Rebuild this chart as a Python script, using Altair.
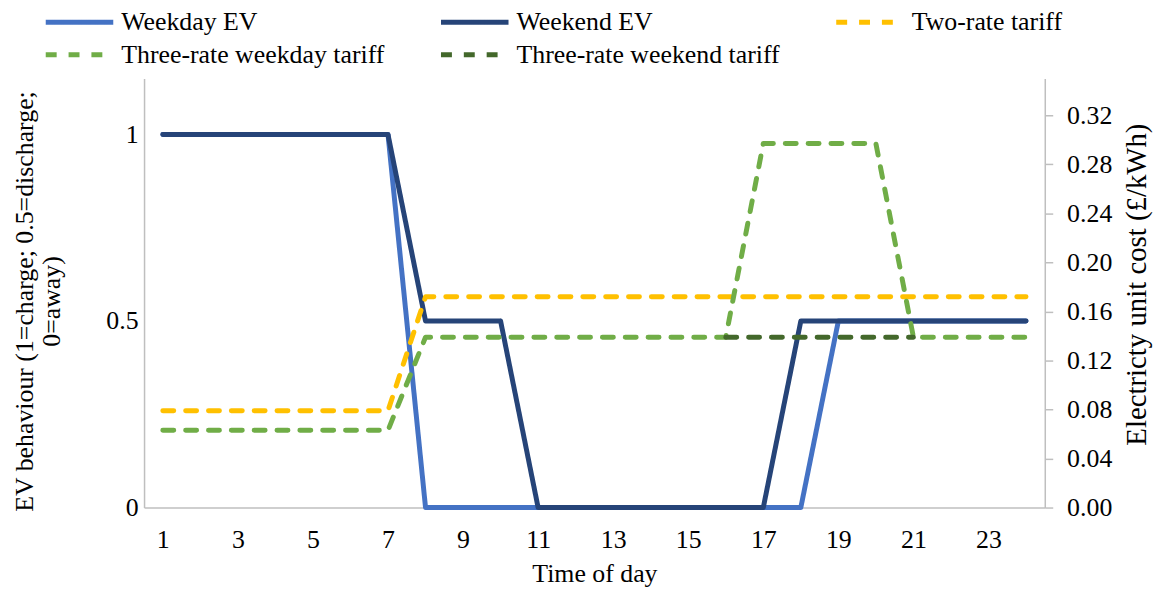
import altair as alt
import pandas as pd

hours = list(range(1, 25))
weekday_ev = [1, 1, 1, 1, 1, 1, 1, 0, 0, 0, 0, 0, 0, 0, 0, 0, 0, 0, 0.5, 0.5, 0.5, 0.5, 0.5, 0.5]
weekend_ev = [1, 1, 1, 1, 1, 1, 1, 0.5, 0.5, 0.5, 0, 0, 0, 0, 0, 0, 0, 0.5, 0.5, 0.5, 0.5, 0.5, 0.5, 0.5]
two_rate = [0.079] * 7 + [0.172] * 17
three_weekday = [0.063] * 7 + [0.139] * 9 + [0.297] * 4 + [0.139] * 4
weekend_hours = [16, 17, 18, 19, 20, 21]
three_weekend = [0.139, 0.139, 0.139, 0.139, 0.139, 0.139]

series_names = ["Weekday EV", "Weekend EV", "Two-rate tariff",
                "Three-rate weekday tariff", "Three-rate weekend tariff"]
series_colors = ["#4472C4", "#264478", "#FFC000", "#70AD47", "#43682B"]
series_dash = [[1, 0], [1, 0], [11, 12], [11, 12], [11, 12]]

x_ticks = list(range(1, 24, 2))
left_ticks = [0, 0.5, 1]
right_ticks = [0, 0.04, 0.08, 0.12, 0.16, 0.20, 0.24, 0.28, 0.32]

ev_df = pd.concat([
    pd.DataFrame({"hour": hours, "value": weekday_ev, "series": series_names[0]}),
    pd.DataFrame({"hour": hours, "value": weekend_ev, "series": series_names[1]}),
])
tariff_df = pd.concat([
    pd.DataFrame({"hour": hours, "value": two_rate, "series": series_names[2]}),
    pd.DataFrame({"hour": hours, "value": three_weekday, "series": series_names[3]}),
    pd.DataFrame({"hour": weekend_hours, "value": three_weekend, "series": series_names[4]}),
])

FONT = "Liberation Serif"
FS = 26
GRAY = "#BFBFBF"

legend = alt.Legend(
    title=None, orient="none", legendX=-84.5, legendY=-76.5,
    direction="horizontal", columns=3,
    symbolType="M-2,0L2,0", symbolSize=1156, symbolStrokeWidth=5,
    labelFont=FONT, labelFontSize=FS, labelColor="black",
    labelOffset=22.5, columnPadding=46, rowPadding=0, labelLimit=400,
)

color = alt.Color("series:N", scale=alt.Scale(domain=series_names, range=series_colors), legend=legend)
dash = alt.StrokeDash("series:N", scale=alt.Scale(domain=series_names, range=series_dash), legend=legend)

x = alt.X("hour:Q", scale=alt.Scale(domain=[0.5, 24.5], nice=False, zero=False),
          axis=alt.Axis(values=x_ticks, title="Time of day", ticks=False, labelPadding=19,
                        labelFontSize=FS, titleFontSize=FS, titleY=74, titleBaseline="alphabetic"))

line_props = dict(strokeWidth=5, strokeCap="round", strokeJoin="round")

ev = alt.Chart(ev_df).mark_line(**line_props).encode(
    x=x,
    y=alt.Y("value:Q", scale=alt.Scale(domain=[0, 1.15], nice=False),
            axis=alt.Axis(orient="left", values=left_ticks, format="~g", ticks=False,
                          labelPadding=6, labelFontSize=FS,
                          title=["EV behaviour (1=charge; 0.5=discharge;", "0=away)"],
                          titleFontSize=FS, titleAngle=270, titleAlign="center",
                          titleBaseline="alphabetic", titleX=-112, titleY=224,
                          titleLineHeight=27)),
    color=color, strokeDash=dash,
)

tariff = alt.Chart(tariff_df).mark_line(**line_props).encode(
    x=x,
    y=alt.Y("value:Q", scale=alt.Scale(domain=[0, 0.35], nice=False),
            axis=alt.Axis(orient="right", values=right_ticks, format=".2f", tickSize=8,
                          tickColor=GRAY, tickWidth=1.5, labelPadding=14, labelFontSize=FS,
                          title="Electricty unit cost (£/kWh)", titleFontSize=29,
                          titleAngle=270, titleAlign="center", titleBaseline="alphabetic",
                          titleX=101, titleY=207)),
    color=color, strokeDash=dash,
)

chart = alt.layer(ev, tariff).resolve_scale(y="independent").properties(
    width=907, height=432,
    autosize=alt.AutoSizeParams(type="none"),
    padding={"left": 137, "top": 69, "right": 112, "bottom": 79},
).configure(font=FONT).configure_view(stroke=None).configure_axis(
    grid=False, domainColor=GRAY, domainWidth=1.5,
    labelFont=FONT, titleFont=FONT, labelColor="black", titleColor="black",
    titleFontWeight="normal",
).configure_legend(labelFont=FONT)

chart.save("out.html", embed_options={"renderer": "svg", "actions": False})
